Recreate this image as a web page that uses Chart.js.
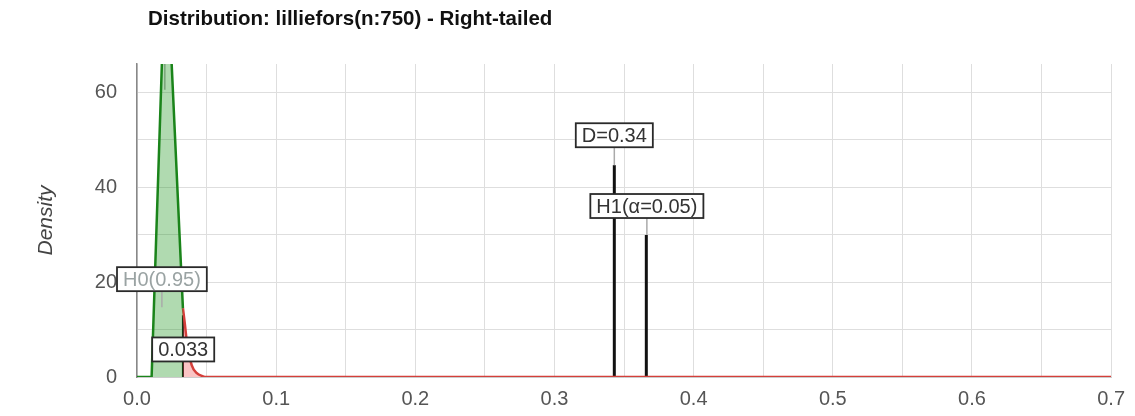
<!DOCTYPE html>
<html><head><meta charset="utf-8">
<script src="https://cdn.jsdelivr.net/npm/chart.js@4.4.0/dist/chart.umd.min.js"></script>
<style>html,body{margin:0;padding:0;background:#fff;} #wrap{width:1135px;height:416px;}</style>
</head><body><div id="wrap"><canvas id="c" width="1135" height="416"></canvas></div>
<script>
const titleText = 'Distribution: lilliefors(n:750) - Right-tailed';
const yAxisTitle = 'Density';
const xMin = 0, xMax = 0.7, xStep = 0.05;
const yMin = 0, yMax = 65.9, yStep = 10;
// acceptance region density (green)
const h0X = [0.0, 0.0105, 0.0208, 0.033];
const h0Y = [0, 0, 92, 14.5];
// rejection tail density (red)
const h1X = [0.033, 0.0343, 0.036, 0.0393, 0.043, 0.047, 0.05, 0.7];
const h1Y = [14.5, 11.4, 7.0, 2.5, 0.8, 0.2, 0, 0];
// markers
const critValue = 0.033, critHeight = 13;
const statD = 0.343, statDHeight = 44.6;
const h1Pos = 0.366, h1Height = 29.9;
const modeX = 0.020, modeLow = 60.5;
// annotations
const annTexts = ['D=0.34', 'H1(α=0.05)', 'H0(0.95)', '0.033'];
const annX = [0.343, 0.3664, 0.0179, 0.0332];
const annY = [50.9, 36.0, 20.6, 5.8];
const annTarget = [44.6, 29.9, 14.7, null];
const annColors = ['#333', '#333', '#9aa3a3', '#333'];

const pts = (xs, ys) => xs.map((x, i) => ({x: x, y: ys[i]}));
const FONT = '"Liberation Sans", Arial, sans-serif';

const annPlugin = {
  id: 'ann',
  afterDatasetsDraw(chart) {
    const ctx = chart.ctx, xs = chart.scales.x, ys = chart.scales.y;
    ctx.save();
    ctx.font = '20px ' + FONT;
    ctx.textAlign = 'center';
    ctx.textBaseline = 'middle';
    annTexts.forEach((t, i) => {
      const cx = xs.getPixelForValue(annX[i]);
      const cy = ys.getPixelForValue(annY[i]);
      const w = ctx.measureText(t).width + 12, h = 24;
      if (annTarget[i] !== null) {
        ctx.strokeStyle = '#aaa'; ctx.lineWidth = 1.5;
        ctx.beginPath();
        ctx.moveTo(cx, cy + h / 2);
        ctx.lineTo(cx, ys.getPixelForValue(annTarget[i]));
        ctx.stroke();
      }
      ctx.fillStyle = '#fff';
      ctx.fillRect(cx - w / 2, cy - h / 2, w, h);
      ctx.strokeStyle = '#2a2a2a'; ctx.lineWidth = 1.8;
      ctx.strokeRect(cx - w / 2, cy - h / 2, w, h);
      ctx.fillStyle = annColors[i];
      ctx.fillText(t, cx, cy + 1);
    });
    ctx.restore();
  },
  afterDraw(chart) {
    const ctx = chart.ctx;
    ctx.save();
    ctx.font = 'bold 20.5px ' + FONT;
    ctx.fillStyle = '#111';
    ctx.textAlign = 'left';
    ctx.textBaseline = 'middle';
    ctx.fillText(titleText, 148, 19);
    ctx.restore();
  }
};

new Chart(document.getElementById('c'), {
  type: 'scatter',
  data: {
    datasets: [
      {data: pts(h0X, h0Y), showLine: true, fill: 'origin', backgroundColor: 'rgba(30,150,30,0.35)', borderColor: '#1a841a', borderWidth: 2.5, pointRadius: 0, tension: 0},
      {data: pts(h1X, h1Y), showLine: true, fill: 'origin', backgroundColor: 'rgba(240,60,60,0.3)', borderColor: '#d43f3a', borderWidth: 2.5, pointRadius: 0, cubicInterpolationMode: 'monotone'},
      {data: pts([critValue, critValue], [0, critHeight]), showLine: true, borderColor: '#111', borderWidth: 2, pointRadius: 0},
      {data: pts([statD, statD], [0, statDHeight]), showLine: true, borderColor: '#111', borderWidth: 3, pointRadius: 0},
      {data: pts([h1Pos, h1Pos], [0, h1Height]), showLine: true, borderColor: '#111', borderWidth: 3, pointRadius: 0},
      {data: pts([modeX, modeX], [modeLow, yMax]), showLine: true, borderColor: 'rgba(150,150,150,0.8)', borderWidth: 1.5, pointRadius: 0}
    ]
  },
  options: {
    responsive: false,
    animation: false,
    layout: {padding: {top: 64, right: 21, left: 0, bottom: 0}},
    plugins: {legend: {display: false}, tooltip: {enabled: false}, title: {display: false}},
    scales: {
      x: {
        type: 'linear', min: xMin, max: xMax,
        afterFit: s => { s.height = 39; },
        grid: {color: '#dedede', lineWidth: 1, drawTicks: false},
        border: {color: '#ccc'},
        ticks: {
          stepSize: xStep, autoSkip: false, maxRotation: 0, padding: 10,
          color: '#555', font: {family: FONT, size: 20},
          callback: v => (Math.round(v * 100) % 10 === 0 ? v.toFixed(1) : '')
        }
      },
      y: {
        type: 'linear', min: yMin, max: yMax,
        afterFit: s => { s.width = 137; },
        grid: {color: '#dedede', lineWidth: 1, drawTicks: false},
        border: {color: '#888', width: 1.5},
        title: {display: true, text: yAxisTitle, color: '#444', font: {family: FONT, size: 21, style: 'italic'}, padding: {top: 34, bottom: 0}},
        ticks: {
          stepSize: yStep, includeBounds: false, padding: 20,
          color: '#555', font: {family: FONT, size: 20},
          callback: v => (Math.round(v) % 20 === 0 ? String(v) : '')
        }
      }
    }
  },
  plugins: [annPlugin]
});
</script>
</body></html>
